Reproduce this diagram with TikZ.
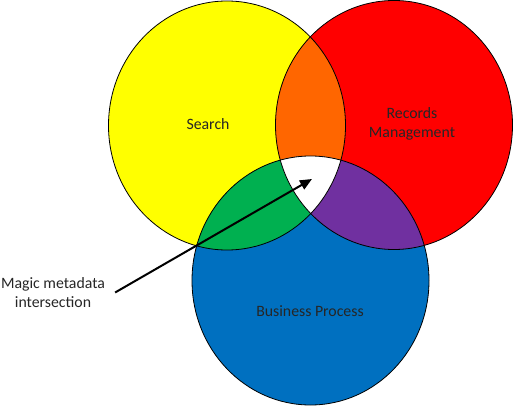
\documentclass[tikz,border=0pt]{standalone}
\usepackage{fontspec}
\setmainfont{Carlito}
\usetikzlibrary{arrows.meta}
\definecolor{cyellow}{HTML}{FFFF00}
\definecolor{cred}{HTML}{FF0000}
\definecolor{cblue}{HTML}{0070C0}
\definecolor{corange}{HTML}{FF6600}
\definecolor{cgreen}{HTML}{00B050}
\definecolor{cpurple}{HTML}{7030A0}
\begin{document}
\begin{tikzpicture}[x=1pt,y=-1pt,
  outline/.style={draw=black,line width=0.8pt},
  lbl/.style={font=\fontsize{15.8}{19}\selectfont,align=center,text=black!85,inner sep=0pt},
  pointer/.style={line width=2pt,-{Triangle[length=12pt,width=10pt]}}]
\useasboundingbox (0,0) rectangle (514,406);
\def\ya{(227,125.5) ellipse [x radius=118.5,y radius=124.5]}
\def\ra{(394,125) ellipse [x radius=118.5,y radius=124.5]}
\def\ba{(310.5,280.5) ellipse [x radius=118.5,y radius=124.5]}
% base fills
\fill[cyellow] \ya;
\fill[cred] \ra;
\fill[cblue] \ba;
% pairwise intersections
\begin{scope}\clip \ya; \fill[corange] \ra; \fill[cgreen] \ba; \end{scope}
\begin{scope}\clip \ra; \fill[cpurple] \ba; \end{scope}
\begin{scope}\clip \ya; \clip \ra; \fill[white] \ba; \end{scope}
% outlines
\draw[outline] \ya;
\draw[outline] \ra;
\draw[outline] \ba;
% labels
\node[lbl] (search) at (208,124) {Search};
\node[lbl] (records) at (412,123.5) {Records\\Management};
\node[lbl] (business) at (310,311) {Business Process};
\node[lbl,inner xsep=6pt] (magic) at (53,292.5) {Magic metadata\\intersection};
\coordinate (tip) at (312,179);
\draw[pointer] ([xshift=4pt]magic.east) -- (tip);
\end{tikzpicture}
\end{document}
